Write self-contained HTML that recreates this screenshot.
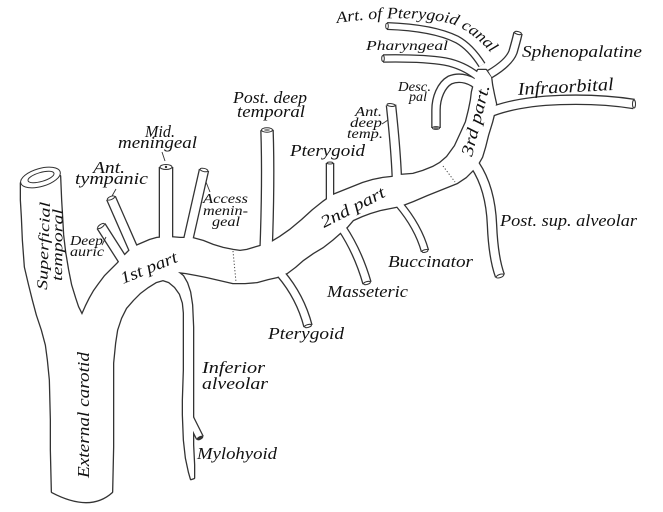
<!DOCTYPE html>
<html><head><meta charset="utf-8"><style>
html,body{margin:0;padding:0;background:#fff;}
svg{display:block;}
text{font-family:"Liberation Serif",serif;font-style:italic;fill:#111;}
</style></head><body>
<svg width="663" height="512" viewBox="0 0 663 512" xmlns="http://www.w3.org/2000/svg">
<defs>
<path id="b" d="M52,492 Q90,512 112,492 L113,447 L113,400 L113,363 L115,343 L117,330 L121,318 L126,308 L133,300 L140,293 L148,287 L156,282 L163,280 L169,282 L175,287 L180,294 L183,303 L184,313 L184,340 L184,370 L183,400 L183,415 L184,440 L186,458 L189,472 L191,479 L194,478 L194,465 L193,445 L193,420 L193,390 L193,350 L193,327 L192,305 L190,292 L187,283 L183,276 L178,272 L186,273 L197,275 L207,277 L220,280 L233,283 L245,283 L257,282 L268,279 L277,277 L287,273 L295,267 L303,260 L313,253 L323,247 L332,240 L340,233 L347,227 L353,220 L362,216 L370,213 L380,210 L390,208 L400,206 L413,201 L427,195 L442,189 L457,183 L466,177 L473,170 L478,164 L482,157 L485,147 L488,135 L492,122 L495,110 L496,104 L494,95 L492,85 L491,77 L486,70 L478,70 L475,77 L474,84 L472,92 L471,100 L469,110 L466,122 L461,133 L455,146 L447,157 L440,163 L433,167 L423,171 L413,174 L400,175 L392,177 L383,178 L373,180 L363,183 L353,187 L343,191 L333,195 L323,202 L313,210 L302,220 L290,230 L280,237 L270,243 L264,245 L257,247 L247,250 L240,251 L233,250 L223,248 L213,245 L203,241 L192,238 L180,238 L168,237 L157,238 L150,240 L143,243 L136,246 L130,250 L124,256 L118,263 L112,269 L105,276 L99,284 L94,291 L90,298 L86,306 L82,315 L78,307 L75,298 L71,285 L68,270 L65,252 L63,235 L62,217 L61,200 L60,176 L21,183 L21,200 L22,217 L23,240 L25,267 L29,284 L33,300 L37,315 L42,330 L46,345 L48,360 L50,380 L51,420 L51,450 Z"/>
<path id="t1" d="M124,262 L101,226"/>
<path id="t2" d="M136,255 L111,198"/>
<path id="t3" d="M166,245 L166,167"/>
<path id="t4" d="M187,245 L204,170"/>
<path id="t5" d="M266,252 C268,200 268,160 267,130"/>
<path id="t6" d="M330,205 L330,163"/>
<path id="t7" d="M397,182 C396,150 393,125 391,105"/>
<path id="t8" d="M480,88 C472,79 460,76 450,80 C441,85 436,98 436,110 L436,128"/>
<path id="t9" d="M383,58.5 C410,58 430,59 445,61.5 C458,64 468,69 477,76"/>
<path id="t10" d="M387,26 C415,27 440,31 457,39.5 C467,45 475,54 482,65"/>
<path id="t11" d="M490,74 C500,68 510,60 513,52 C515,45 517,38 518,33"/>
<path id="t12" d="M488,113 C505,106 530,101 560,100 C590,99 615,101 634,104"/>
<path id="t13" d="M475,165 C485,180 491,200 492,225 C493,250 496,265 500,276"/>
<path id="t14" d="M399,204 C410,217 420,233 425,251"/>
<path id="t15" d="M342,228 C352,243 361,262 367,283"/>
<path id="t16" d="M281,274 C292,287 302,303 308,326"/>
<path id="t17" d="M188,414 L200,438"/>
<path id="tp" d="M337,23 C370,18 420,15 452,24 C466,29 480,40 492,54"/>
</defs>

<g stroke="#333" fill="none" stroke-linecap="butt" stroke-linejoin="round">
<use href="#b" fill="#fff" stroke-width="2.6"/>
<use href="#t1" stroke-width="10.6"/>
<use href="#t2" stroke-width="10.6"/>
<use href="#t3" stroke-width="14.6"/>
<use href="#t4" stroke-width="10.6"/>
<use href="#t5" stroke-width="13.6"/>
<use href="#t6" stroke-width="8.6"/>
<use href="#t7" stroke-width="10.6"/>
<use href="#t8" stroke-width="9.6"/>
<use href="#t9" stroke-width="8.6"/>
<use href="#t10" stroke-width="8.1"/>
<use href="#t11" stroke-width="9.6"/>
<use href="#t12" stroke-width="10.6"/>
<use href="#t13" stroke-width="10.6"/>
<use href="#t14" stroke-width="8.6"/>
<use href="#t15" stroke-width="9.6"/>
<use href="#t16" stroke-width="9.6"/>
<use href="#t17" stroke-width="8.6"/>
</g>
<g stroke="#fff" fill="none" stroke-linecap="butt" stroke-linejoin="round">
<use href="#b" fill="#fff" stroke="none"/>
<use href="#t1" stroke-width="8"/>
<use href="#t2" stroke-width="8"/>
<use href="#t3" stroke-width="12"/>
<use href="#t4" stroke-width="8"/>
<use href="#t5" stroke-width="11"/>
<use href="#t6" stroke-width="6"/>
<use href="#t7" stroke-width="8"/>
<use href="#t8" stroke-width="7"/>
<use href="#t9" stroke-width="6"/>
<use href="#t10" stroke-width="5.5"/>
<use href="#t11" stroke-width="7"/>
<use href="#t12" stroke-width="8"/>
<use href="#t13" stroke-width="8"/>
<use href="#t14" stroke-width="6"/>
<use href="#t15" stroke-width="7"/>
<use href="#t16" stroke-width="7"/>
<use href="#t17" stroke-width="6"/>
</g>

<g stroke="#333" stroke-width="1" fill="#fff">
<ellipse cx="40.5" cy="177.5" rx="20.5" ry="9" transform="rotate(-16 40.5 177.5)"/>
<ellipse cx="41" cy="177" rx="13.5" ry="4.5" transform="rotate(-16 41 177)"/>
<ellipse cx="101" cy="226" rx="4" ry="1.6" transform="rotate(-34.5 101 226)"/>
<ellipse cx="111" cy="198" rx="4" ry="1.6" transform="rotate(-23.7 111 198)"/>
<ellipse cx="166" cy="167" rx="6" ry="2.5"/>
<ellipse cx="204" cy="170" rx="4" ry="1.6" transform="rotate(13 204 170)"/>
<ellipse cx="267" cy="130" rx="5.5" ry="2.2"/>
<ellipse cx="330" cy="163" rx="3" ry="1"/>
<ellipse cx="391" cy="105" rx="4" ry="1.4" transform="rotate(6 391 105)"/>
<ellipse cx="436" cy="128" rx="3.5" ry="1.4"/>
<ellipse cx="383" cy="58.5" rx="1.3" ry="3"/>
<ellipse cx="387" cy="26" rx="1.3" ry="2.8"/>
<ellipse cx="518" cy="33" rx="3.5" ry="1.4" transform="rotate(15 518 33)"/>
<ellipse cx="634" cy="104" rx="1.5" ry="4"/>
<ellipse cx="500" cy="276" rx="4" ry="1.6" transform="rotate(-20 500 276)"/>
<ellipse cx="425" cy="251" rx="3" ry="1.3" transform="rotate(-15 425 251)"/>
<ellipse cx="367" cy="283" rx="3.5" ry="1.4" transform="rotate(-16 367 283)"/>
<ellipse cx="308" cy="326" rx="3.5" ry="1.4" transform="rotate(-15 308 326)"/>
<ellipse cx="200" cy="438" rx="3" ry="1.3" transform="rotate(-28 200 438)" fill="#333"/>
</g>
<circle cx="166" cy="167" r="1.2" fill="#333"/>
<ellipse cx="267" cy="130" rx="3" ry="1" fill="#888"/>
<ellipse cx="436" cy="128" rx="2" ry="0.8" fill="#555"/>

<g stroke="#444" stroke-width="1" stroke-dasharray="1.2 2" fill="none">
<line x1="233" y1="251" x2="236" y2="282"/>
<line x1="443" y1="166" x2="455" y2="182"/>
</g>

<g stroke="#333" stroke-width="0.9" fill="none">
<line x1="162" y1="152" x2="165" y2="161"/>
<line x1="116" y1="189" x2="112" y2="196"/>
<line x1="102" y1="245" x2="106" y2="237"/>
<line x1="206" y1="182" x2="210" y2="192"/>
<line x1="382" y1="124" x2="388" y2="120"/>
</g>

<text x="233" y="103" font-size="17" textLength="74" lengthAdjust="spacingAndGlyphs">Post. deep</text>
<text x="237" y="117" font-size="17" textLength="68" lengthAdjust="spacingAndGlyphs">temporal</text>
<text x="145" y="137" font-size="17" textLength="30" lengthAdjust="spacingAndGlyphs">Mid.</text>
<text x="118" y="148" font-size="17" textLength="79" lengthAdjust="spacingAndGlyphs">meningeal</text>
<text x="93" y="173" font-size="17" textLength="32" lengthAdjust="spacingAndGlyphs">Ant.</text>
<text x="75" y="184" font-size="17" textLength="73" lengthAdjust="spacingAndGlyphs">tympanic</text>
<text x="290" y="156" font-size="17" textLength="75" lengthAdjust="spacingAndGlyphs">Pterygoid</text>
<text x="355" y="116" font-size="13.5" textLength="27" lengthAdjust="spacingAndGlyphs">Ant.</text>
<text x="350" y="127" font-size="13.5" textLength="32" lengthAdjust="spacingAndGlyphs">deep</text>
<text x="347" y="138" font-size="13.5" textLength="36" lengthAdjust="spacingAndGlyphs">temp.</text>
<text x="398" y="91" font-size="14" textLength="33" lengthAdjust="spacingAndGlyphs">Desc.</text>
<text x="409" y="101" font-size="14" textLength="18" lengthAdjust="spacingAndGlyphs">pal</text>
<text x="366" y="50" font-size="14" textLength="82" lengthAdjust="spacingAndGlyphs">Pharyngeal</text>
<text font-size="16"><textPath href="#tp" textLength="165" lengthAdjust="spacingAndGlyphs">Art. of Pterygoid canal</textPath></text>
<text x="522" y="57" font-size="17" textLength="120" lengthAdjust="spacingAndGlyphs">Sphenopalatine</text>
<text x="518" y="95" font-size="18" textLength="96" lengthAdjust="spacingAndGlyphs" transform="rotate(-3 518 95)">Infraorbital</text>
<text x="472" y="157" font-size="17" textLength="73" lengthAdjust="spacingAndGlyphs" transform="rotate(-76 472 157)">3rd part.</text>
<text x="500" y="226" font-size="17" textLength="137" lengthAdjust="spacingAndGlyphs">Post. sup. alveolar</text>
<text x="388" y="267" font-size="17" textLength="85" lengthAdjust="spacingAndGlyphs">Buccinator</text>
<text x="327" y="297" font-size="17" textLength="81" lengthAdjust="spacingAndGlyphs">Masseteric</text>
<text x="268" y="339" font-size="17" textLength="76" lengthAdjust="spacingAndGlyphs">Pterygoid</text>
<text x="202" y="373" font-size="17" textLength="63" lengthAdjust="spacingAndGlyphs">Inferior</text>
<text x="202" y="389" font-size="17" textLength="66" lengthAdjust="spacingAndGlyphs">alveolar</text>
<text x="197" y="459" font-size="17" textLength="80" lengthAdjust="spacingAndGlyphs">Mylohyoid</text>
<text x="89" y="478" font-size="17" textLength="126" lengthAdjust="spacingAndGlyphs" transform="rotate(-90 89 478)">External carotid</text>
<text x="47" y="290" font-size="15" textLength="88" lengthAdjust="spacingAndGlyphs" transform="rotate(-88 47 290)">Superficial</text>
<text x="62" y="281" font-size="15" textLength="72" lengthAdjust="spacingAndGlyphs" transform="rotate(-89.5 62 281)">temporal</text>
<text x="123" y="284" font-size="17" textLength="60" lengthAdjust="spacingAndGlyphs" transform="rotate(-22 123 284)">1st part</text>
<text x="324" y="228" font-size="17" textLength="70" lengthAdjust="spacingAndGlyphs" transform="rotate(-27 324 228)">2nd part</text>
<text x="70" y="245" font-size="13.5" textLength="33" lengthAdjust="spacingAndGlyphs">Deep</text>
<text x="70" y="256" font-size="13.5" textLength="34" lengthAdjust="spacingAndGlyphs">auric</text>
<text x="203" y="203" font-size="13.5" textLength="45" lengthAdjust="spacingAndGlyphs">Access</text>
<text x="203" y="215" font-size="13.5" textLength="45" lengthAdjust="spacingAndGlyphs">menin-</text>
<text x="212" y="226" font-size="13.5" textLength="28" lengthAdjust="spacingAndGlyphs">geal</text>
</svg>
</body></html>
